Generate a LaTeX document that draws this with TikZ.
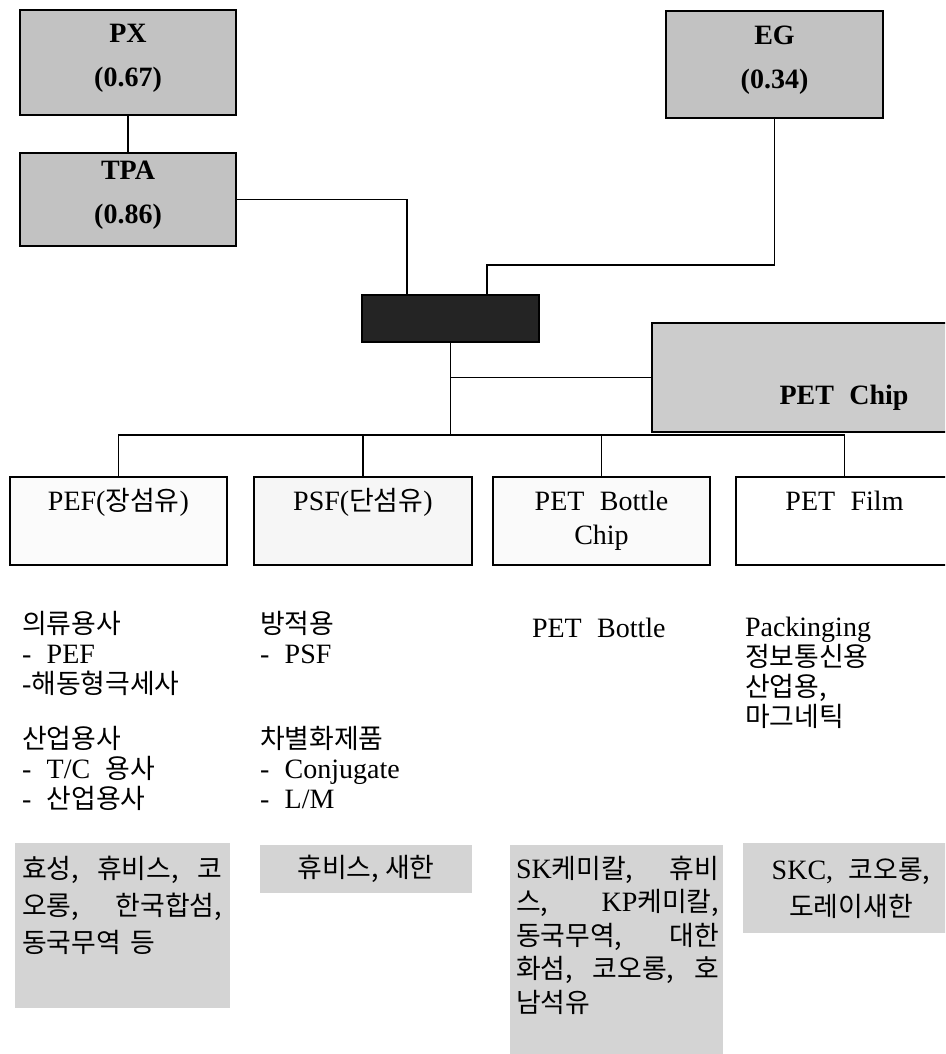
\documentclass[tikz,border=0pt]{standalone}
\usepackage{fontspec}
\setmainfont{Liberation Serif}[WordSpace=2.2]
\newfontfamily\krfont{Noto Sans CJK KR}[Scale=0.96]
\newcommand{\kr}[1]{{\krfont #1}}
\definecolor{topgray}{gray}{0.76}
\definecolor{chipgray}{gray}{0.80}
\definecolor{compgray}{gray}{0.83}
\definecolor{darkfill}{gray}{0.14}
\begin{document}
\begin{tikzpicture}[x=1pt,y=-1pt,
  every node/.style={inner sep=0pt, outer sep=0pt},
  conn/.style={line width=1.4pt},
  topbox/.style={draw, line width=1.8pt, fill=topgray, align=center,
    font=\fontsize{28}{44}\selectfont\bfseries, text depth=14pt, anchor=north west},
  catbox/.style={draw, line width=1.8pt, align=center, anchor=north west,
    minimum width=217pt, minimum height=88pt, font=\fontsize{28}{34}\selectfont},
  desc/.style={anchor=north west, align=left, font=\fontsize{28}{30}\selectfont},
  compbox/.style={fill=compgray, anchor=north west},
  comptext/.style={anchor=north west, align=left, font=\fontsize{28}{37}\selectfont}]
\useasboundingbox (0,0) rectangle (945,1054);
\fill[white] (0,0) rectangle (945,1054);
\clip (0,0) rectangle (945,1054);

% raw materials
\node[topbox, minimum width=216pt, minimum height=105pt] (px) at (20,10) {PX\\(0.67)};
\node[topbox, minimum width=216pt, minimum height=93pt] (tpa) at (20,153) {TPA\\(0.86)};
\node[topbox, minimum width=217pt, minimum height=107pt] (eg) at (666,11) {EG\\(0.34)};

% polymerisation (dark) box and PET chip
\node[draw, line width=1.8pt, fill=darkfill, anchor=north west,
  minimum width=177pt, minimum height=47pt] (poly) at (362,295) {};
\node[draw, line width=1.8pt, fill=chipgray, anchor=north west,
  minimum width=384pt, minimum height=109pt, font=\fontsize{28}{34}\selectfont\bfseries,
  text height=53pt, text depth=0pt] (chip) at (652,323) {PET Chip};

% product boxes
\node[catbox, fill=gray!3] (pef) at (10,477) {\strut PEF(\kr{장섬유})\\\strut};
\node[catbox, fill=gray!7, minimum width=218pt] (psf) at (254,477) {\strut PSF(\kr{단섬유})\\\strut};
\node[catbox, fill=gray!4] (bottle) at (493,477) {\strut PET Bottle\\\strut Chip};
\node[catbox, fill=white] (film) at (736,477) {\strut PET Film\\\strut};

% connectors
\coordinate (tpain) at (407,295);
\coordinate (egturn) at (487,265);
\coordinate (egin) at (487,295);
\coordinate (bus) at (446,435);
\draw[conn] (px.south) -- (tpa.north);
\draw[conn] (tpa.east) -| (tpain);
\draw[conn] (eg.south) |- (egturn) -- (egin);
\draw[conn] (poly.south) -- (poly.south |- bus);
\draw[conn] (poly.south |- chip.west) -- (chip.west);
\draw[conn] (pef.north) -- (pef.north |- bus) -- (film.north |- bus) -- (film.north);
\draw[conn] (psf.north) -- (psf.north |- bus);
\draw[conn] (bottle.north) -- (bottle.north |- bus);

% uses
\node[desc] (use1a) at (22,611) {\kr{의류용사}\\- PEF\\-\kr{해동형극세사}};
\node[desc] (use1b) at (22,726) {\kr{산업용사}\\- T/C \kr{용사}\\- \kr{산업용사}};
\node[desc] (use2a) at (260,611) {\kr{방적용}\\- PSF};
\node[desc] (use2b) at (260,726) {\kr{차별화제품}\\- Conjugate\\- L/M};
\node[desc] (use3) at (532,618) {PET Bottle};
\node[desc] (use4) at (745,617) {Packinging\\\kr{정보통신용}\\\kr{산업용,}\\\kr{마그네틱}};

% producers
\node[compbox, minimum width=215pt, minimum height=165pt] (comp1) at (15,843) {};
\node[comptext, text width=200pt] (comp1t) at (22,856)
  {\kr{효성,\hfill 휴비스,\hfill 코}\\\kr{오롱,\hfill 한국합섬,}\\\kr{동국무역 등}};
\node[compbox, minimum width=212pt, minimum height=48pt, font=\fontsize{28}{34}\selectfont] (comp2) at (260,845) {\kr{휴비스, 새한}};
\node[compbox, minimum width=213pt, minimum height=215pt] (comp3) at (510,845) {};
\node[comptext, text width=203pt, font=\fontsize{28}{33.5}\selectfont] (comp3t) at (516,856)
  {SK\kr{케미칼,}\hfill\kr{휴비}\\\kr{스,}\hfill KP\kr{케미칼,}\\\kr{동국무역,}\hfill\kr{대한}\\\kr{화섬,}\hfill\kr{코오롱,}\hfill\kr{호}\\\kr{남석유}};
\node[compbox, minimum width=216pt, minimum height=90pt, align=center,
  font=\fontsize{28}{37}\selectfont] (comp4) at (743,843) {SKC, \kr{코오롱,}\\\kr{도레이새한}};
\end{tikzpicture}
\end{document}
